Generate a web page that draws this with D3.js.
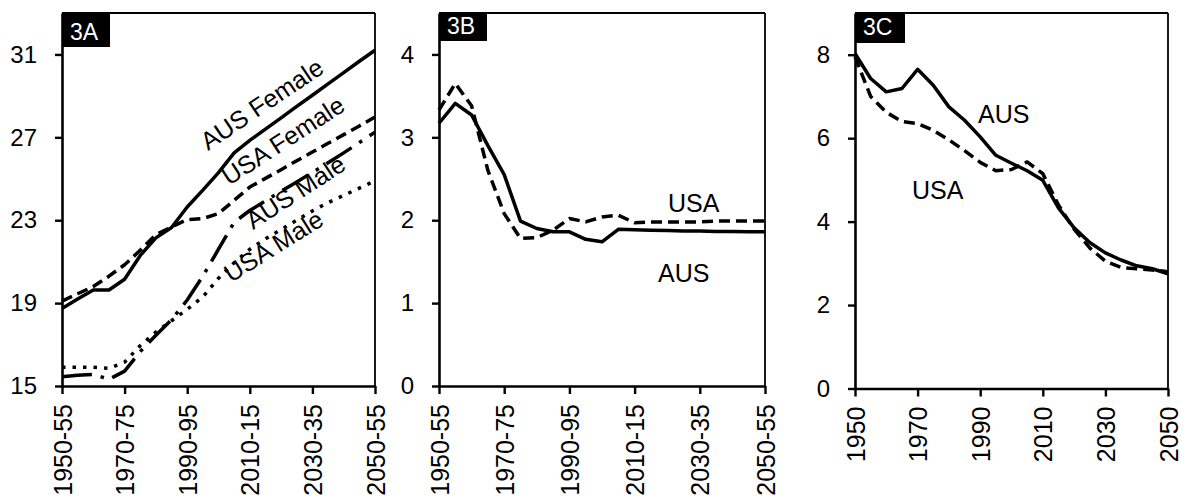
<!DOCTYPE html>
<html>
<head>
<meta charset="utf-8">
<script src="https://cdn.jsdelivr.net/npm/d3@7"></script>
<style>
  html, body { margin: 0; padding: 0; background: #fff; }
  svg { display: block; font-family: "Liberation Sans", Arial, sans-serif; }
</style>
</head>
<body>
<svg id="chart" width="1185" height="501"></svg>
<script>
// ---------- data ----------
const periods = ["1950-55","1955-60","1960-65","1965-70","1970-75","1975-80","1980-85","1985-90",
  "1990-95","1995-00","2000-05","2005-10","2010-15","2015-20","2020-25","2025-30","2030-35",
  "2035-40","2040-45","2045-50","2050-55"];
const periodTicks = ["1950-55","1970-75","1990-95","2010-15","2030-35","2050-55"];
const years = [1950,1955,1960,1965,1970,1975,1980,1985,1990,1995,2000,2005,2010,2015,2020,2025,2030,2035,2040,2045,2050];
const yearTicks = [1950,1970,1990,2010,2030,2050];

// 3A
const ausFemaleA = [18.74,19.2,19.63,19.63,20.15,21.3,22.15,22.65,23.64,24.45,25.3,26.25,26.85,27.4,27.94,28.49,29.03,29.58,30.12,30.67,31.2];
const usaFemaleA = [19.1,19.45,19.8,20.3,20.85,21.55,22.3,22.68,23.03,23.08,23.32,23.96,24.6,25.02,25.44,25.87,26.29,26.71,27.13,27.55,27.98];
const ausMaleA   = [15.45,15.52,15.56,15.32,15.72,16.66,17.45,18.2,19.15,20.3,21.6,22.9,23.47,23.93,24.4,24.85,25.3,25.77,26.25,26.75,27.25];
const usaMaleA   = [15.9,15.9,15.9,15.85,16.15,16.95,17.6,18.15,18.7,19.3,20.2,20.95,21.6,22.1,22.55,23.0,23.45,23.85,24.2,24.55,24.9];
const yTicksA = [15,19,23,27,31];

// 3B
const ausB = [3.17,3.41,3.27,2.9,2.55,1.99,1.9,1.86,1.86,1.77,1.74,1.89,1.885,1.88,1.875,1.87,1.87,1.865,1.865,1.86,1.86];
const usaB = [3.33,3.65,3.38,2.6,2.08,1.78,1.79,1.88,2.02,1.98,2.04,2.06,1.97,1.98,1.98,1.98,1.98,1.99,1.99,1.99,1.99];
const yTicksB = [0,1,2,3,4];

// 3C
const ausC = [8.03,7.43,7.11,7.19,7.65,7.27,6.75,6.43,6.03,5.59,5.4,5.22,4.99,4.33,3.85,3.5,3.25,3.08,2.94,2.87,2.75];
const usaC = [7.95,7.0,6.62,6.4,6.35,6.19,5.96,5.7,5.42,5.22,5.25,5.43,5.15,4.4,3.82,3.37,3.05,2.9,2.87,2.84,2.8];
const yTicksC = [0,2,4,6,8];

// ---------- drawing ----------
const svg = d3.select("#chart");
const SOLID = null, DASHED = "11,6", DASHDOT = "30,9,3.5,9", DOTTED = "3.5,7";
const fmtInt = d3.format("d");

function panel(opts) {
  const g = svg.append("g");
  const x = opts.x, y = opts.y;
  const [x0, x1] = x.range();
  const [y0, y1] = y.range();

  opts.series.forEach(s => {
    const line = d3.line()
      .x((d, i) => x(opts.xs[i]))
      .y(d => y(d));
    g.append("path")
      .datum(s.values)
      .attr("d", line)
      .attr("fill", "none")
      .attr("stroke", "#000")
      .attr("stroke-width", 3.5)
      .attr("stroke-linejoin", "round")
      .attr("stroke-dasharray", s.dash);
  });

  g.append("line").attr("x1", x0).attr("x2", x1).attr("y1", y1).attr("y2", y1)
    .attr("stroke", "#000").attr("stroke-width", 1.8);
  g.append("line").attr("x1", x1).attr("x2", x1).attr("y1", y1).attr("y2", y0)
    .attr("stroke", "#000").attr("stroke-width", 1.8);

  const ya = g.append("g").attr("transform", `translate(${x0},0)`)
    .call(d3.axisLeft(y).tickValues(opts.yTicks).tickFormat(fmtInt)
      .tickSize(7).tickSizeOuter(0).tickPadding(18));
  const xAxis = d3.axisBottom(x).tickValues(opts.xTicks).tickSize(8).tickSizeOuter(0);
  if (opts.xNumeric) xAxis.tickFormat(fmtInt);
  const xa = g.append("g").attr("transform", `translate(0,${y0})`).call(xAxis);
  [ya, xa].forEach(a => {
    a.select(".domain").attr("stroke", "#000").attr("stroke-width", 2.6);
    a.selectAll(".tick line").attr("stroke", "#000").attr("stroke-width", 2.4);
    a.selectAll("text").attr("fill", "#000").style("font-family", "Liberation Sans, Arial, sans-serif");
  });
  ya.selectAll("text").style("font-size", "24px");
  xa.selectAll("text")
    .style("font-size", "25px")
    .attr("transform", "rotate(-90)")
    .attr("x", -18).attr("y", 0).attr("dy", "0.36em")
    .style("text-anchor", "end");

  const t = opts.tag;
  g.append("rect").attr("x", x0).attr("y", y1).attr("width", t.w).attr("height", t.h).attr("fill", "#000");
  g.append("text").attr("x", x0 + t.tx).attr("y", t.by).text(t.label)
    .attr("fill", "#fff").style("font-size", "23px");

  opts.labels.forEach(l => {
    g.append("text")
      .attr("transform", `translate(${l.x},${l.y}) rotate(${l.r || 0})`)
      .text(l.text).attr("fill", "#000").style("font-size", "25px");
  });
}

panel({
  x: d3.scalePoint().domain(periods).range([62, 375]),
  y: d3.scaleLinear().domain([15, 33]).range([386, 13]),
  xs: periods, xTicks: periodTicks, yTicks: yTicksA,
  series: [
    { values: ausFemaleA, dash: SOLID },
    { values: usaFemaleA, dash: DASHED },
    { values: ausMaleA, dash: DASHDOT },
    { values: usaMaleA, dash: DOTTED }
  ],
  tag: { label: "3A", w: 48, h: 34, tx: 8, by: 40 },
  labels: [
    { text: "AUS Female", x: 208, y: 151, r: -34 },
    { text: "USA Female", x: 229, y: 186, r: -33 },
    { text: "AUS Male", x: 253, y: 230, r: -33 },
    { text: "USA Male", x: 231, y: 283, r: -32 }
  ]
});

panel({
  x: d3.scalePoint().domain(periods).range([439, 765]),
  y: d3.scaleLinear().domain([0, 4.5]).range([386, 13]),
  xs: periods, xTicks: periodTicks, yTicks: yTicksB,
  series: [
    { values: ausB, dash: SOLID },
    { values: usaB, dash: DASHED }
  ],
  tag: { label: "3B", w: 48, h: 28, tx: 8, by: 33.5 },
  labels: [
    { text: "USA", x: 668, y: 212 },
    { text: "AUS", x: 658, y: 282 }
  ]
});

panel({
  x: d3.scaleLinear().domain([1950, 2050]).range([855, 1168]),
  y: d3.scaleLinear().domain([0, 9]).range([388.5, 13]),
  xs: years, xTicks: yearTicks, yTicks: yTicksC, xNumeric: true,
  series: [
    { values: ausC, dash: SOLID },
    { values: usaC, dash: DASHED }
  ],
  tag: { label: "3C", w: 50, h: 30, tx: 8, by: 35 },
  labels: [
    { text: "AUS", x: 978, y: 123 },
    { text: "USA", x: 912, y: 199 }
  ]
});
</script>
</body>
</html>
